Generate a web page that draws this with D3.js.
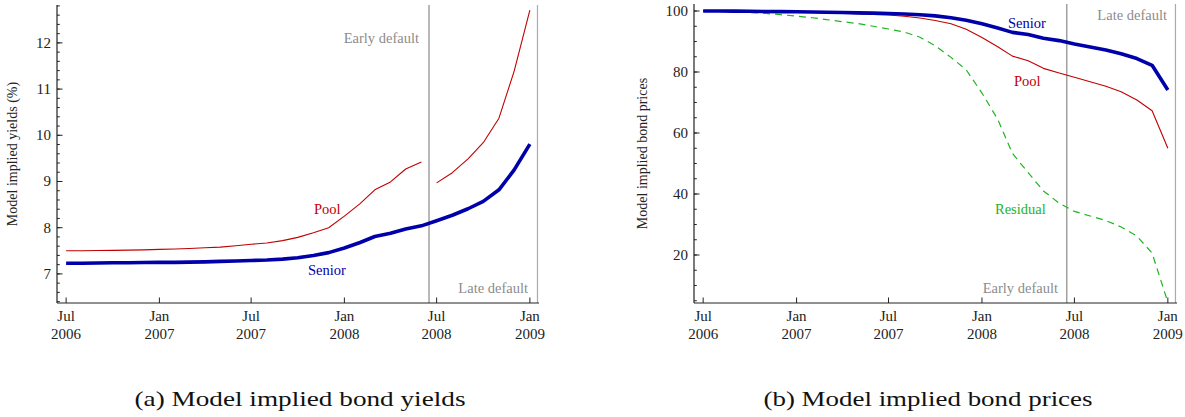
<!DOCTYPE html>
<html>
<head>
<meta charset="utf-8">
<script src="https://cdn.jsdelivr.net/npm/d3@7"></script>
<style>
  html, body { margin: 0; padding: 0; background: #fff; }
  svg { display: block; }
</style>
</head>
<body>
<svg id="chart" width="1185" height="417" font-family="'Liberation Serif', 'Times New Roman', Tinos, Times, serif"></svg>
<script>
// ---------- DATA ----------
const months = [
  "2006-07","2006-08","2006-09","2006-10","2006-11","2006-12",
  "2007-01","2007-02","2007-03","2007-04","2007-05","2007-06",
  "2007-07","2007-08","2007-09","2007-10","2007-11","2007-12",
  "2008-01","2008-02","2008-03","2008-04","2008-05","2008-06",
  "2008-07","2008-08","2008-09","2008-10","2008-11","2008-12",
  "2009-01"
];
// (a) yields, %
const yieldSenior = [7.23,7.23,7.235,7.24,7.24,7.245,7.25,7.25,7.255,7.26,7.27,7.28,
  7.29,7.30,7.32,7.35,7.40,7.46,7.56,7.68,7.81,7.88,7.97,8.04,
  8.15,8.27,8.41,8.57,8.82,9.25,9.81];
const yieldPool = [7.50,7.50,7.505,7.51,7.515,7.52,7.53,7.54,7.55,7.565,7.58,7.61,
  7.64,7.67,7.72,7.79,7.89,8.00,8.25,8.52,8.82,8.99,9.27,9.42,
  8.97,9.19,9.49,9.84,10.37,11.39,12.71];
// (b) prices
const priceSenior = [100,99.98,99.95,99.9,99.85,99.8,99.75,99.7,99.6,99.5,99.4,99.3,
  99.2,99.0,98.8,98.4,97.8,97.0,95.8,94.4,93.0,92.3,91.1,90.3,
  89.2,88.2,87.2,86.0,84.4,82.2,74.1];
const pricePool = [100,99.95,99.9,99.85,99.8,99.7,99.6,99.5,99.4,99.25,99.1,98.9,
  98.7,98.3,97.7,96.9,95.8,94.0,91.3,88.3,85.2,83.7,81.2,79.7,
  78.3,76.8,75.3,73.5,70.8,67.3,55.0];
const priceResidual = [100,99.9,99.7,99.5,99.2,98.8,98.3,97.8,97.2,96.5,95.9,95.0,
  94.1,93.1,91.4,88.6,84.8,80.7,73.1,64.5,53.3,47.0,41.0,37.0,
  34.3,32.8,31.3,29.2,26.2,20.6,4.5];
// event markers (early / late default boundaries)
const eventDates = ["2008-06-16","2009-01-16"];
const xTickDates = ["2006-07","2007-01","2007-07","2008-01","2008-07","2009-01"];
const yieldTicks = [7,8,9,10,11,12];
const priceTicks = [20,40,60,80,100];
// Pool yield series is broken between Jun and Jul 2008
const yieldPoolBreakAfter = "2008-06";

// ---------- SETUP ----------
const parseM = d3.timeParse("%Y-%m");
const parseD = d3.timeParse("%Y-%m-%d");
const fmtMon = d3.timeFormat("%b");
const fmtYr = d3.timeFormat("%Y");
const svg = d3.select("#chart");
const xDomain = [parseD("2006-06-13"), parseD("2009-01-19")];

const BLUE = "#0000aa", RED = "#c00000", GREEN = "#22b422", GRAY = "#8c8c8c", AXIS = "#222";

function drawPanel(opt) {
  const g = svg.append("g");
  const x = d3.scaleTime().domain(xDomain).range(opt.xr);
  const y = d3.scaleLinear().domain(opt.yd).range(opt.yr);

  eventDates.forEach((d, i) => {
    g.append("line")
      .attr("x1", x(parseD(d))).attr("x2", x(parseD(d)))
      .attr("y1", opt.yr[1]).attr("y2", opt.yr[0])
      .attr("stroke", i === 0 ? "#8a8a8a" : "#aaaaaa").attr("stroke-width", 1.2);
  });

  const yAxis = g.append("g").attr("transform", `translate(${opt.xr[0]},0)`);
  yAxis.append("line").attr("x1", 0).attr("x2", 0).attr("y1", opt.yr[0]).attr("y2", opt.yr[1])
    .attr("stroke", AXIS).attr("stroke-width", 1.2);
  opt.minor.forEach(v => {
    yAxis.append("line").attr("x1", 0).attr("x2", 2.8).attr("y1", y(v)).attr("y2", y(v))
      .attr("stroke", AXIS).attr("stroke-width", 1);
  });
  opt.yTicks.forEach(v => {
    yAxis.append("line").attr("x1", 0).attr("x2", 5.5).attr("y1", y(v)).attr("y2", y(v))
      .attr("stroke", AXIS).attr("stroke-width", 1);
    yAxis.append("text").attr("x", -6).attr("y", y(v) + 5)
      .attr("text-anchor", "end").attr("font-size", 15).attr("fill", AXIS).text(v);
  });

  const xAxis = g.append("g").attr("transform", `translate(0,${opt.yr[0]})`);
  xAxis.append("line").attr("x1", opt.xr[0]).attr("x2", opt.xr[1]).attr("y1", 0).attr("y2", 0)
    .attr("stroke", AXIS).attr("stroke-width", 1.2);
  xTickDates.forEach(s => {
    const d = parseM(s), px = x(d);
    xAxis.append("line").attr("x1", px).attr("x2", px).attr("y1", 0).attr("y2", -5.5)
      .attr("stroke", AXIS).attr("stroke-width", 1);
    xAxis.append("text").attr("x", px).attr("y", 18).attr("text-anchor", "middle")
      .attr("font-size", 15).attr("fill", AXIS).text(fmtMon(d));
    xAxis.append("text").attr("x", px).attr("y", 36).attr("text-anchor", "middle")
      .attr("font-size", 15).attr("fill", AXIS).text(fmtYr(d));
  });

  const cy = (opt.yr[0] + opt.yr[1]) / 2;
  g.append("text").attr("transform", `translate(${opt.titleX},${cy}) rotate(-90)`)
    .attr("text-anchor", "middle").attr("font-size", 14).attr("fill", AXIS).text(opt.title);

  const line = d3.line().defined(d => d.v != null).x(d => x(d.d)).y(d => y(d.v));
  opt.series.forEach(s => {
    const pts = months.map((m, i) => ({ d: parseM(m), v: s.values[i] }));
    let data = pts;
    if (s.breakAfter) {
      const idx = months.indexOf(s.breakAfter);
      data = [...pts.slice(0, idx + 1), { d: null, v: null }, ...pts.slice(idx + 1)];
    }
    g.append("path").datum(data).attr("d", line)
      .attr("fill", "none").attr("stroke", s.color).attr("stroke-width", s.width)
      .attr("stroke-linejoin", "round").attr("stroke-linecap", "butt")
      .attr("stroke-dasharray", s.dash || null);
  });

  opt.labels.forEach(l => {
    g.append("text").attr("x", l.x).attr("y", l.y).attr("text-anchor", l.anchor || "start")
      .attr("font-size", 14.5).attr("fill", l.color).text(l.text);
  });

  svg.append("text").attr("x", opt.capX).attr("y", 406).attr("text-anchor", "middle")
    .attr("font-size", 22).attr("fill", "#111")
    .attr("textLength", opt.capW).attr("lengthAdjust", "spacingAndGlyphs")
    .text(opt.caption);
}

drawPanel({
  xr: [57, 539], yr: [303, 5], yd: [6.37, 12.82],
  yTicks: yieldTicks,
  minor: d3.range(64, 129, 2).map(v => v / 10),
  title: "Model implied yields (%)", titleX: 17,
  series: [
    { values: yieldPool, color: RED, width: 1.1, breakAfter: yieldPoolBreakAfter },
    { values: yieldSenior, color: BLUE, width: 3.6 }
  ],
  labels: [
    { text: "Early default", x: 419, y: 43, anchor: "end", color: GRAY },
    { text: "Late default", x: 528, y: 293, anchor: "end", color: GRAY },
    { text: "Pool", x: 314, y: 214, color: RED },
    { text: "Senior", x: 308, y: 275, color: BLUE }
  ],
  caption: "(a) Model implied bond yields", capX: 300, capW: 331
});

drawPanel({
  xr: [694, 1177], yr: [303, 4], yd: [4.26, 102.3],
  yTicks: priceTicks,
  minor: d3.range(5, 101, 5),
  title: "Model implied bond prices", titleX: 647,
  series: [
    { values: priceResidual, color: GREEN, width: 1.2, dash: "7,5" },
    { values: pricePool, color: RED, width: 1.1 },
    { values: priceSenior, color: BLUE, width: 3.6 }
  ],
  labels: [
    { text: "Late default", x: 1167, y: 20, anchor: "end", color: GRAY },
    { text: "Early default", x: 1058, y: 293, anchor: "end", color: GRAY },
    { text: "Senior", x: 1008, y: 28, color: BLUE },
    { text: "Pool", x: 1014, y: 86, color: RED },
    { text: "Residual", x: 995, y: 214, color: GREEN }
  ],
  caption: "(b) Model implied bond prices", capX: 928, capW: 329
});
</script>
</body>
</html>
